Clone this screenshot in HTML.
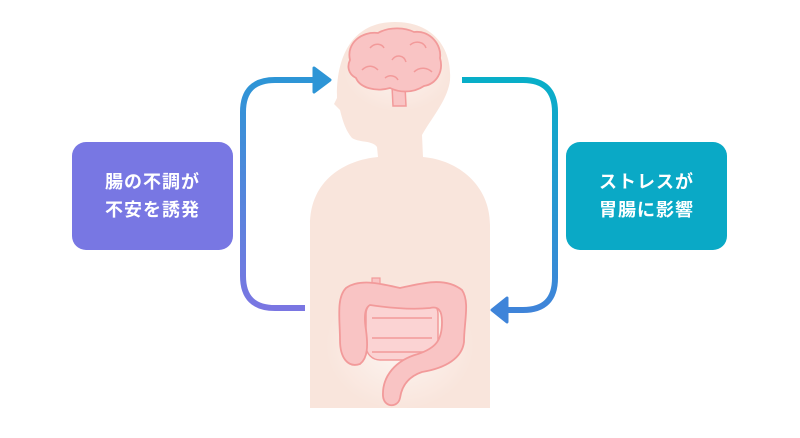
<!DOCTYPE html>
<html><head><meta charset="utf-8"><style>
html,body{margin:0;padding:0;background:#fff}
body{width:800px;height:438px;position:relative;overflow:hidden;font-family:"Liberation Sans","Noto Sans CJK JP",sans-serif}
.box{position:absolute;top:142px;width:161px;height:108px;border-radius:14px;color:#fff;font-size:18px;font-weight:bold;display:flex;align-items:center;justify-content:center;text-align:center;line-height:28px;letter-spacing:1px}
</style></head><body>
<svg width="800" height="438" style="position:absolute;left:0;top:0">
<defs>
<linearGradient id="gl" x1="0" y1="1" x2="0" y2="0"><stop offset="0" stop-color="#7a76e2"/><stop offset="1" stop-color="#2d95d6"/></linearGradient>
<linearGradient id="gr" x1="0" y1="0" x2="0" y2="1"><stop offset="0" stop-color="#08aec8"/><stop offset="1" stop-color="#3f84d9"/></linearGradient>
<radialGradient id="glow1" cx="0.5" cy="0.5" r="0.5"><stop offset="0" stop-color="#fff" stop-opacity="0.9"/><stop offset="1" stop-color="#fff" stop-opacity="0"/></radialGradient>
</defs>
<path d="M310 408 L310 225 C310 180 345 160 378 157 L377 147 C372 140 360 143 352 138 C345 130 342 118 340 110 L334 104 L337 98 C336 60 350 22 395 22 C435 22 452 50 450 80 C448 100 430 120 422 135 L423 157 C458 160 490 185 490 225 L490 408 Z" fill="#f9e5dc"/>
<ellipse cx="398" cy="70" rx="55" ry="42" fill="url(#glow1)" opacity="0.6"/>
<ellipse cx="400" cy="345" rx="75" ry="65" fill="url(#glow1)" opacity="0.7"/>
<path d="M392 86 L393 106 L406 106 L405 86 Z" fill="#f9c4c4" stroke="#f29a9a" stroke-width="1.5"/>
<path d="M350 60 C346 43 362 31 378 33 C390 26 406 28 414 32 C430 30 442 45 440 58 C444 72 436 84 424 86 C412 94 398 92 390 88 C376 92 360 88 356 78 C348 74 347 66 350 60 Z" fill="#f9c4c4" stroke="#f29a9a" stroke-width="1.8"/>
<path d="M370 48 C375 42 382 44 384 48 M362 70 C368 64 374 66 378 70 M392 60 C396 54 404 55 406 62 M410 45 C416 40 424 42 426 48 M414 72 C420 66 428 68 432 72 M385 78 C390 74 396 76 398 80" fill="none" stroke="#f29a9a" stroke-width="1.5"/>
<rect x="372" y="278" width="8" height="10" fill="#f9c4c4" stroke="#f29a9a" stroke-width="1.2"/>
<rect x="366" y="300" width="72" height="60" rx="14" fill="#fbd3d3" stroke="#f29a9a" stroke-width="1.5"/>
<path d="M372 318 H432 M372 338 H432 M372 352 H432" stroke="#f29a9a" stroke-width="1.5"/>
<path d="M346 288 C360 278 382 284 400 288 C420 284 444 276 462 290 C470 302 464 322 464 342 C462 358 446 368 422 372 C410 376 402 384 400 398 C398 408 384 408 383 396 C382 376 396 360 418 354 C436 348 442 340 442 322 C442 310 438 306 430 308 C410 310 390 308 370 305 C364 308 364 318 366 330 C368 345 368 358 360 364 C348 368 340 358 340 340 C340 320 336 298 346 288 Z" fill="#f9c4c4" stroke="#f29a9a" stroke-width="1.8"/>
<path d="M305 308 H275 Q243 308 243 276 V112 Q243 80 275 80 H316" fill="none" stroke="url(#gl)" stroke-width="6"/>
<path d="M314 68 L330 80 L314 92 Z" fill="#2d95d6" stroke="#2d95d6" stroke-width="3" stroke-linejoin="round"/>
<path d="M462 80 H523 Q555 80 555 112 V278 Q555 310 523 310 H505" fill="none" stroke="url(#gr)" stroke-width="6"/>
<path d="M507 298 L492 310 L507 322 Z" fill="#3f84d9" stroke="#3f84d9" stroke-width="3" stroke-linejoin="round"/>
</svg>
<div class="box" style="left:72px;background:#7877e3">腸の不調が<br>不安を誘発</div>
<div class="box" style="left:566px;background:#0aa9c6">ストレスが<br>胃腸に影響</div>
</body></html>
